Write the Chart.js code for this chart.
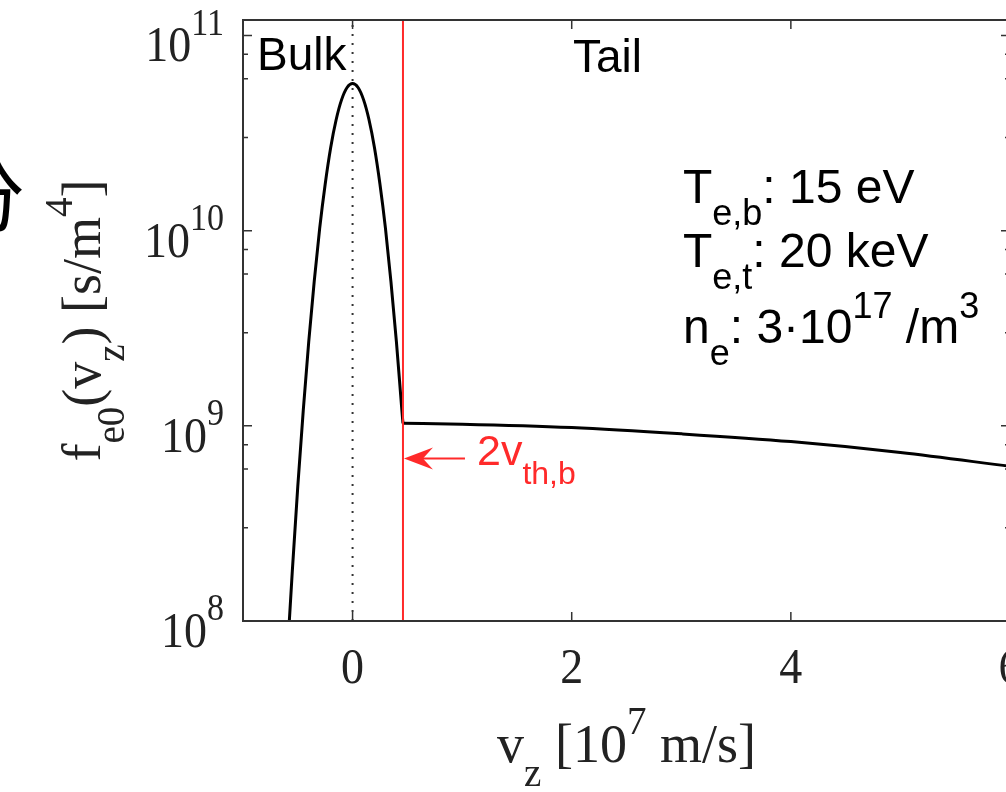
<!DOCTYPE html>
<html>
<head>
<meta charset="utf-8">
<script src="https://cdn.jsdelivr.net/npm/chart.js@4.4.0/dist/chart.umd.min.js"></script>
<style>
  html, body { margin: 0; padding: 0; background: #fff; overflow: hidden; }
  #wrap { position: relative; width: 1020px; height: 792px; }
  #cut { position: absolute; left: -53px; top: 153px; font: 78px "Noto Sans CJK SC"; line-height: 1; color: #000; }
</style>
</head>
<body>
<div id="wrap">
  <canvas id="chart" width="1020" height="792"></canvas>
  <div id="cut">分</div>
</div>
<script>
// bulk Maxwellian part (vz in 1e7 m/s, f in s/m^4)
const vzBulk = [-0.60, -0.55, -0.50, -0.45, -0.40, -0.35, -0.30, -0.25, -0.20, -0.15, -0.10, -0.05,
                0.00, 0.05, 0.10, 0.15, 0.20, 0.25, 0.30, 0.35, 0.40, 0.45, 0.46];
const feBulk = [6.1e7, 1.8e8, 4.9e8, 1.2e9, 2.7e9, 5.5e9, 1.03e10, 1.73e10, 2.66e10, 3.70e10, 4.69e10, 5.41e10,
                5.67e10, 5.41e10, 4.69e10, 3.70e10, 2.66e10, 1.73e10, 1.03e10, 5.5e9, 2.7e9, 1.2e9, 1.03e9];

// hot tail
const vzTail = [0.46, 1, 2, 3, 4, 5, 6];
const feTail = [1.03e9, 1.02e9, 9.8e8, 9.1e8, 8.3e8, 7.3e8, 6.2e8];

// markers
const vzCut = 0.46;      // 2 v_th,b
const vzCenter = 0;
const arrowF = 6.8e8;

// axes
const xMin = -1, xMax = 6;
const yMin = 1e8, yMax = 1.2e11;
const xTicks = [0, 2, 4, 6];
const xTickLabels = ['0', '2', '4', '6'];
const yDecades = [8, 9, 10, 11];
const yMinorMant = [2, 3, 4, 5, 6, 7, 8, 9];

const SERIF = '"Liberation Serif", "Times New Roman", serif';
const SANS = '"Liberation Sans", Arial, sans-serif';
const AXIS = '#333333';
const RED = '#ff2a2a';

function toXY(xs, ys) {
    return xs.map((x, i) => ({ x: x, y: ys[i] }));
}

// draw text pieces with sub/superscripts, returns width
function drawRich(ctx, parts, x, y, size, small, family, measureOnly) {
    let cx = x;
    parts.forEach(p => {
        const t = p[0], kind = p[1];
        ctx.font = (kind ? small : size) + 'px ' + family;
        const dy = kind === 'sub' ? size * 0.45 : kind === 'sup' ? -size * 0.52 : 0;
        if (!measureOnly) ctx.fillText(t, cx, y + dy);
        cx += ctx.measureText(t).width;
    });
    return cx - x;
}

// serif tick text looks a bit taller in the original
function tallText(ctx, fn, x, y) {
    ctx.save();
    ctx.translate(x, y);
    ctx.scale(1, 1.12);
    fn();
    ctx.restore();
}

const figurePlugin = {
    id: 'figure',
    afterDraw(chart) {
        const ctx = chart.ctx;
        const a = chart.chartArea;
        const xs = chart.scales.x, ys = chart.scales.y;
        ctx.save();
        ctx.textAlign = 'left';
        ctx.textBaseline = 'alphabetic';

        // box
        ctx.strokeStyle = AXIS;
        ctx.lineWidth = 2;
        ctx.strokeRect(a.left, a.top, a.right - a.left, a.bottom - a.top);

        // x ticks + labels
        ctx.lineWidth = 1.5;
        ctx.fillStyle = '#222';
        xs.ticks.forEach((t, i) => {
            const px = xs.getPixelForValue(t.value);
            ctx.beginPath();
            ctx.moveTo(px, a.bottom); ctx.lineTo(px, a.bottom - 9);
            ctx.moveTo(px, a.top); ctx.lineTo(px, a.top + 9);
            ctx.stroke();
            tallText(ctx, () => {
                ctx.font = '46px ' + SERIF;
                ctx.textAlign = 'center';
                ctx.fillText(xTickLabels[i], 0, 0);
            }, px, a.bottom + 62);
        });
        ctx.textAlign = 'left';

        // y ticks + labels
        ys.ticks.forEach(t => {
            if (t.value < yMin || t.value > yMax) return;
            const py = ys.getPixelForValue(t.value);
            const len = t.major ? 9 : 5;
            ctx.beginPath();
            ctx.moveTo(a.left, py); ctx.lineTo(a.left + len, py);
            ctx.moveTo(a.right, py); ctx.lineTo(a.right - len, py);
            ctx.stroke();
            if (t.major) {
                const parts = [['10'], [String(t.exp), 'sup']];
                const w = drawRich(ctx, parts, 0, 0, 46, 34, SERIF, true);
                tallText(ctx, () => drawRich(ctx, parts, 0, 0, 46, 34, SERIF), 224 - w, py + 26);
            }
        });

        // axis titles
        ctx.fillStyle = '#222';
        const xt = [['v'], ['z', 'sub'], [' [10'], ['7', 'sup'], [' m/s]']];
        const xw = drawRich(ctx, xt, 0, 0, 54, 39, SERIF, true);
        drawRich(ctx, xt, (a.left + a.right) / 2 - xw / 2, 762, 54, 39, SERIF);

        const yt = [['f'], ['e0', 'sub'], ['(v'], ['z', 'sub'], [') [s/m'], ['4', 'sup'], [']']];
        const yw = drawRich(ctx, yt, 0, 0, 54, 39, SERIF, true);
        ctx.save();
        ctx.translate(100, (a.top + a.bottom) / 2);
        ctx.rotate(-Math.PI / 2);
        drawRich(ctx, yt, -yw / 2, 0, 54, 39, SERIF);
        ctx.restore();

        // region labels
        ctx.fillStyle = '#000';
        ctx.font = '46px ' + SANS;
        ctx.fillText('Bulk', 257, 70);
        ctx.fillText('Tail', 573, 72);

        // parameters
        drawRich(ctx, [['T'], ['e,b', 'sub'], [': 15 eV']], 683, 203, 48, 36, SANS);
        drawRich(ctx, [['T'], ['e,t', 'sub'], [': 20 keV']], 683, 267, 48, 36, SANS);
        drawRich(ctx, [['n'], ['e', 'sub'], [': 3\u00b710'], ['17', 'sup'], [' /m'], ['3', 'sup']], 683, 343, 48, 36, SANS);

        // arrow to the 2 v_th,b line
        const tipX = xs.getPixelForValue(vzCut) + 1;
        const ay = ys.getPixelForValue(arrowF);
        ctx.fillStyle = RED;
        ctx.strokeStyle = RED;
        ctx.lineWidth = 2;
        ctx.beginPath();
        ctx.moveTo(tipX + 18, ay); ctx.lineTo(tipX + 61, ay);
        ctx.stroke();
        ctx.beginPath();
        ctx.moveTo(tipX, ay);
        ctx.lineTo(tipX + 29, ay - 11);
        ctx.lineTo(tipX + 19, ay);
        ctx.lineTo(tipX + 29, ay + 11);
        ctx.closePath();
        ctx.fill();
        drawRich(ctx, [['2v'], ['th,b', 'sub']], tipX + 73, ay + 6, 43, 32, SANS);

        ctx.restore();
    }
};

new Chart(document.getElementById('chart'), {
    type: 'line',
    data: {
        datasets: [
            {
                label: '2v_th,b',
                data: [{ x: vzCut, y: yMin }, { x: vzCut, y: yMax }],
                borderColor: RED,
                borderWidth: 2,
                tension: 0
            },
            {
                label: 'bulk',
                data: toXY(vzBulk, feBulk),
                borderColor: '#000',
                borderWidth: 3,
                cubicInterpolationMode: 'monotone'
            },
            {
                label: 'tail',
                data: toXY(vzTail, feTail),
                borderColor: '#000',
                borderWidth: 3,
                cubicInterpolationMode: 'monotone'
            },
            {
                label: 'center',
                data: [{ x: vzCenter, y: yMin }, { x: vzCenter, y: yMax }],
                borderColor: '#333',
                borderWidth: 2,
                borderDash: [2, 7],
                tension: 0
            }
        ]
    },
    options: {
        responsive: false,
        animation: false,
        devicePixelRatio: 1,
        layout: { padding: { left: 243, top: 20, right: 10, bottom: 171 } },
        elements: { point: { radius: 0 } },
        plugins: {
            legend: { display: false },
            tooltip: { enabled: false }
        },
        scales: {
            x: {
                type: 'linear',
                min: xMin,
                max: xMax,
                display: false,
                afterBuildTicks: scale => {
                    scale.ticks = xTicks.map(v => ({ value: v }));
                }
            },
            y: {
                type: 'logarithmic',
                min: yMin,
                max: yMax,
                display: false,
                afterBuildTicks: scale => {
                    const ticks = [];
                    yDecades.forEach(e => {
                        ticks.push({ value: Math.pow(10, e), major: true, exp: e });
                        yMinorMant.forEach(m => ticks.push({ value: m * Math.pow(10, e), major: false }));
                    });
                    scale.ticks = ticks;
                }
            }
        }
    },
    plugins: [figurePlugin]
});
</script>
</body>
</html>
